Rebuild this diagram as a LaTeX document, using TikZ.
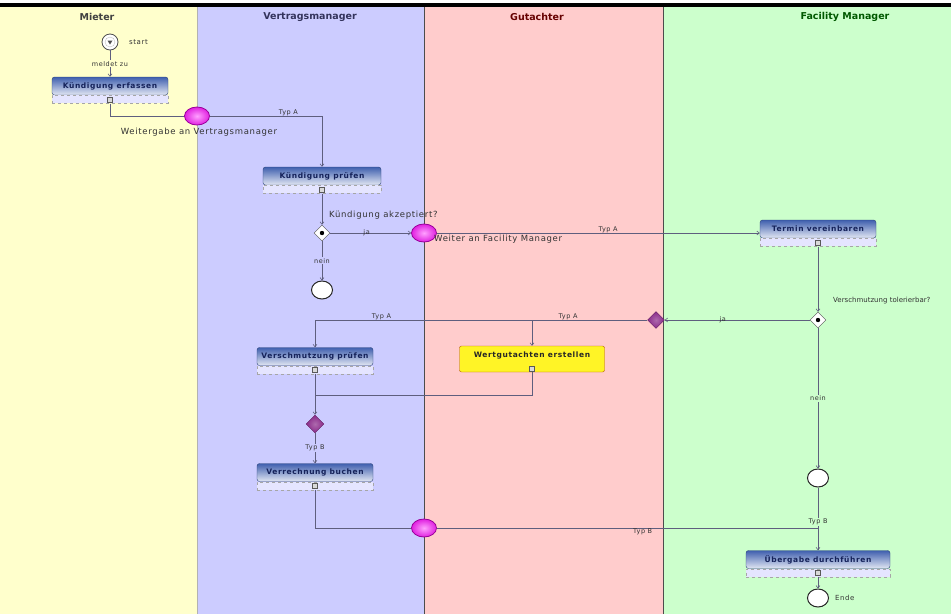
\documentclass[tikz,border=0pt]{standalone}
\usepackage{fontspec}
\setmainfont{DejaVu Sans}
\newfontfamily\widefont{DejaVu Sans}[LetterSpace=8]
\usetikzlibrary{shapes.geometric,arrows.meta,calc}
\definecolor{laneY}{HTML}{FFFFCC}
\definecolor{laneB}{HTML}{CCCCFF}
\definecolor{laneR}{HTML}{FFCCCC}
\definecolor{laneG}{HTML}{CCFFCC}
\definecolor{actTop}{HTML}{3F5FAE}
\definecolor{actTxt}{HTML}{15225A}
\definecolor{lineC}{HTML}{5E5E7E}
\definecolor{pinkIn}{HTML}{FFA0FF}
\definecolor{pinkOut}{HTML}{E020E0}
\definecolor{pinkDr}{HTML}{990099}
\definecolor{purp}{HTML}{8A2A8A}
\begin{document}
\begin{tikzpicture}[x=1pt,y=-1pt,
  lanetitle/.style={font=\fontsize{9.5}{11}\selectfont\bfseries, text=#1},
  lbl/.style={font=\widefont\fontsize{8.5}{9}\selectfont, text=black!80, inner sep=1pt},
  slbl/.style={font=\widefont\fontsize{6.5}{7}\selectfont, text=black!80, inner sep=1pt},
  act/.style={draw=actTop!70!black, rounded corners=2.5pt, top color=actTop, bottom color=actTop!15!white,
     minimum height=18pt, inner sep=1pt, font=\widefont\fontsize{7.5}{8}\selectfont\bfseries, text=actTxt},
  actsub/.style={draw=gray!70, dashed, fill=white!90!blue, minimum height=8pt, inner sep=0pt},
  yact/.style={draw=orange!70!black, rounded corners=2pt, fill=yellow!85!white, minimum height=26pt,
     inner sep=1pt, font=\widefont\fontsize{7.5}{8}\selectfont\bfseries, text=black!85, text depth=8pt},
  pinkell/.style={ellipse, draw=pinkDr, line width=0.8pt, inner color=pinkIn, outer color=pinkOut,
     minimum width=25pt, minimum height=18pt, inner sep=0pt},
  decis/.style={diamond, draw=gray!60!black, fill=white, minimum size=16pt, inner sep=0pt},
  fj/.style={diamond, draw=purp!70!black, inner color=purp!70!white, outer color=purp, minimum size=#1, inner sep=0pt},
  endst/.style={ellipse, draw=gray!30!black, line width=1pt, fill=white, minimum width=21pt, minimum height=18pt, inner sep=0pt},
  flow/.style={draw=lineC, line width=0.6pt, -{Straight Barb[length=2.5pt,width=4pt]}},
  plain/.style={draw=lineC, line width=0.6pt}
]
\useasboundingbox (0,0) rectangle (951,614);
% lanes
\fill[laneY] (0,6) rectangle (197,614);
\fill[laneB] (197,6) rectangle (424,614);
\fill[laneR] (424,6) rectangle (663,614);
\fill[laneG] (663,6) rectangle (951,614);
\draw[gray!60, line width=0.8pt] (197,6) -- (197,614);
\draw[gray!60!black, line width=0.8pt] (424,6) -- (424,614);
\draw[gray!60!black, line width=0.8pt] (663,6) -- (663,614);
\draw[black, line width=3.5pt] (0,5) -- (951,5);
\node[lanetitle=black!75] (t1) at (97,17) {Mieter};
\node[lanetitle=blue!20!black!80] (t2) at (310,17) {Vertragsmanager};
\node[lanetitle=red!40!black] (t3) at (537,17) {Gutachter};
\node[lanetitle=green!35!black] (t4) at (845,17) {Facility Manager};

% start
\node[circle, draw=gray!60!black, fill=white, minimum size=16pt, inner sep=0pt, line width=0.8pt] (start) at (110,42) {};
\node[circle, draw=gray!50, minimum size=10pt, inner sep=0pt] (startin) at (start) {};
\fill[gray!60!black] ($(start)+(-2.5,-1.5)$) -- ($(start)+(2.5,-1.5)$) -- ($(start)+(0,2.5)$) -- cycle;
\node[slbl, anchor=west, font=\widefont\fontsize{7}{8}\selectfont] (startl) at (128,42) {start};

% activities
\node[act, minimum width=116pt] (a1) at (110,86) {Kündigung erfassen};
\node[actsub, minimum width=116pt, anchor=north] (a1b) at (a1.south) {};
\node[act, minimum width=118pt] (a2) at (322,176) {Kündigung prüfen};
\node[actsub, minimum width=118pt, anchor=north] (a2b) at (a2.south) {};
\node[act, minimum width=116pt] (a3) at (818,229) {Termin vereinbaren};
\node[actsub, minimum width=116pt, anchor=north] (a3b) at (a3.south) {};
\node[act, minimum width=116pt] (a4) at (315,356.5) {Verschmutzung prüfen};
\node[actsub, minimum width=116pt, anchor=north] (a4b) at (a4.south) {};
\node[yact, minimum width=145pt] (a5) at (532,359) {Wertgutachten erstellen};
\node[act, minimum width=116pt] (a6) at (315,472.5) {Verrechnung buchen};
\node[actsub, minimum width=116pt, anchor=north] (a6b) at (a6.south) {};
\node[act, minimum width=144pt] (a7) at (818,559.5) {Übergabe durchführen};
\node[actsub, minimum width=144pt, anchor=north] (a7b) at (a7.south) {};
% small icons
\foreach \n in {a1b,a2b,a3b,a4b,a6b,a7b}{
  \draw[gray!70!black, fill=gray!30, line width=0.3pt] ($(\n.center)+(-2.5,-2.5)$) rectangle ($(\n.center)+(2.5,2.5)$);
}
\draw[gray!70!black, fill=gray!30, line width=0.3pt] (529.5,366) rectangle (534.5,371);

% control nodes
\node[pinkell] (m1) at (197,116) {};
\node[pinkell] (m2) at (424,233) {};
\node[pinkell] (m3) at (424,528) {};
\node[decis] (d1) at (322,233) {};
\fill[black] (d1) circle (2.2pt);
\node[decis] (d2) at (818,320) {};
\fill[black] (d2) circle (2.2pt);
\node[fj=17pt] (f1) at (656,320) {};
\node[fj=18pt] (j1) at (315,424) {};
\node[endst] (e1) at (322,290) {};
\node[endst] (e2) at (818,478) {};
\node[endst] (e3) at (818,598) {};
\coordinate (br) at (532,320);
\coordinate (jn) at (315,395);
\coordinate (mg) at (818,528);

% connectors
\draw[flow] (start) -- node[slbl, fill=laneY] {meldet zu} (a1);
\draw[plain] (a1b.south) |- (m1.west);
\node[lbl] (m1l) at (199,132) {Weitergabe an Vertragsmanager};
\draw[flow] (m1.east) -| node[slbl, pos=0.35, above=-1pt] {Typ A} (a2.north);
\draw[flow] (a2b.south) -- (d1.north);
\node[lbl, anchor=west] (d1l) at (328,215) {Kündigung akzeptiert?};
\draw[flow] (d1.east) -- node[slbl, pos=0.45] {ja} (m2.west);
\node[lbl, anchor=west] (m2l) at (433,239) {Weiter an Facility Manager};
\draw[flow] (m2.east) -- node[slbl, pos=0.53, above=-1pt] {Typ A} (m2.east -| a3.west);
\draw[flow] (d1.south) -- node[slbl, fill=laneB] {nein} (e1.north);
\draw[flow] (a3b.south) -- (d2.north);
\node[lbl, anchor=west, font=\fontsize{7}{8}\selectfont] (d2l) at (832,301) {Verschmutzung tolerierbar?};
\draw[flow] (d2.west) -- node[slbl, pos=0.6] {ja} (f1.east);
\draw[flow] (f1.west) -| node[slbl, pos=0.4, above=-1pt] {Typ A} (a4.north);
\draw[flow] (br) -- (a5.north);
\node[slbl, above=-1pt] (brl) at (568,320) {Typ A};
\draw[plain] (a5.south) |- (jn);
\draw[flow] (a4b.south) -- (j1.north);
\draw[flow] (j1.south) -- node[slbl, fill=laneB] {Typ B} (a6.north);
\draw[plain] (a6b.south) |- (m3.west);
\draw[plain] (m3.east) -- node[slbl, pos=0.54, below=-0.5pt] {Typ B} (mg);
\draw[flow] (d2.south) -- node[slbl, fill=laneG] {nein} (e2.north);
\draw[flow] (e2.south) -- node[slbl, pos=0.55, fill=laneG] {Typ B} (a7.north);
\draw[flow] (a7b.south) -- (e3.north);
\node[slbl, anchor=west, font=\widefont\fontsize{7}{8}\selectfont] (e3l) at (834,598) {Ende};
\end{tikzpicture}
\end{document}
